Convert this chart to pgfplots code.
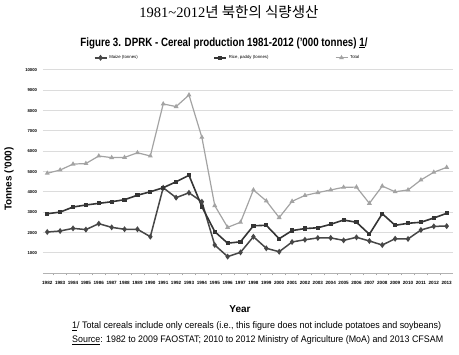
\documentclass[border=0pt]{standalone}
\usepackage{pgfplots}
\pgfplotsset{compat=1.18}
\usepackage{graphicx}
\usepackage{fontspec}
\setmainfont{Liberation Sans}
\newfontfamily\cjk{Noto Sans CJK KR}
\newfontfamily\serifnum{Liberation Serif}
\definecolor{maizec}{HTML}{474747}
\definecolor{ricec}{HTML}{353535}
\definecolor{totalc}{HTML}{A3A3A3}
\definecolor{gridc}{HTML}{DCDCDC}
\begin{document}
\begin{tikzpicture}
\path[use as bounding box] (0pt,0pt) rectangle (459pt,355pt);
\node at (229pt,343pt) {\fontsize{14.5}{15}\selectfont\serifnum 1981\char`~2012\cjk 년 북한의 식량생산};
\node at (224pt,312pt) {\resizebox{287pt}{\height}{\fontsize{12}{13}\selectfont\bfseries Figure 3. DPRK - Cereal production 1981-2012 ('000 tonnes) \underline{1}/}};
\begin{axis}[
  at={(43pt,81.7pt)}, anchor=south west, scale only axis,
  width=410pt, height=203.3pt,
  xmin=-0.33, xmax=31.49, ymin=0, ymax=10000,
  ytick={1000,2000,...,10000},
  scaled y ticks=false,
  xtick={0,...,31},
  xticklabels={1982,1983,1984,1985,1986,1987,1988,1989,1990,1991,1992,1993,1994,1995,1996,1997,1998,1999,2000,2001,2002,2003,2004,2005,2006,2007,2008,2009,2010,2011,2012,2013},
  minor xtick={-0.5,0.5,...,31.5},
  major tick length=0pt, minor tick length=2pt, tick align=outside,
  minor tick style={gray!70, line width=0.5pt},
  axis x line*=bottom, axis y line*=left,
  y axis line style={draw=none},
  x axis line style={draw=gray!60, line width=0.8pt},
  ymajorgrids, grid style={draw=gridc, line width=1pt},
  /pgf/number format/assume math mode=true,
  /pgf/number format/1000 sep={},
  yticklabel style={font=\fontsize{4.2}{5}\selectfont\bfseries, xshift=-2.5pt},
  xticklabel style={font=\fontsize{4.6}{5}\selectfont\bfseries, yshift=-4pt},
  legend columns=3,
  legend style={draw=none, fill=none, at={(0.45,1.06)}, anchor=center,
    font=\fontsize{4.3}{5}\selectfont, inner sep=0pt,
    /tikz/every even column/.append style={column sep=0pt}},
  legend image code/.code={\draw[#1] (0pt,0pt) -- (12pt,0pt); \draw[#1, only marks] plot coordinates {(6pt,0pt)};},
  clip=false,
]
\addplot[maizec, line width=1.5pt, mark=diamond*, mark size=1.8pt] coordinates {
(0,2030)(1,2080)(2,2210)(3,2150)(4,2440)(5,2260)(6,2165)(7,2165)(8,1800)(9,4210)
(10,3720)(11,3960)(12,3520)(13,1390)(14,820)(15,1030)(16,1800)(17,1230)(18,1060)(19,1540)
(20,1650)(21,1740)(22,1740)(23,1620)(24,1770)(25,1590)(26,1390)(27,1700)(28,1690)(29,2130)
(30,2310)(31,2320)};
\addlegendentry{\makebox[102pt][l]{Maize (tonnes)}}
\addplot[ricec, line width=1.6pt, mark=square*, mark size=1.3pt] coordinates {
(0,2930)(1,3010)(2,3260)(3,3360)(4,3440)(5,3520)(6,3620)(7,3840)(8,4010)(9,4210)
(10,4500)(11,4820)(12,3280)(13,2050)(14,1480)(15,1550)(16,2340)(17,2360)(18,1700)(19,2100)
(20,2200)(21,2240)(22,2410)(23,2620)(24,2510)(25,1920)(26,2930)(27,2360)(28,2460)(29,2510)
(30,2720)(31,2950)};
\addlegendentry{\makebox[104pt][l]{Rice, paddy (tonnes)}}
\addplot[totalc, line width=1.2pt, mark=triangle*, mark size=1.7pt] coordinates {
(0,4920)(1,5080)(2,5370)(3,5400)(4,5770)(5,5690)(6,5700)(7,5930)(8,5770)(9,8330)
(10,8200)(11,8770)(12,6690)(13,3330)(14,2260)(15,2510)(16,4100)(17,3560)(18,2740)(19,3540)
(20,3830)(21,3970)(22,4100)(23,4230)(24,4240)(25,3440)(26,4290)(27,4010)(28,4100)(29,4590)
(30,4970)(31,5210)};
\addlegendentry{Total}
\end{axis}
\node[rotate=90] at (9pt,176pt) {\fontsize{10}{11}\selectfont\bfseries Tonnes ('000)};
\node at (240pt,46pt) {\fontsize{10}{11}\selectfont\bfseries Year};
\node[anchor=west, inner sep=0pt] at (72pt,29pt) {\resizebox{369pt}{\height}{\fontsize{9.5}{10}\selectfont\underline{1}/ Total cereals include only cereals (i.e., this figure does not include potatoes and soybeans)}};
\node[anchor=west, inner sep=0pt] at (72pt,15pt) {\resizebox{371pt}{\height}{\fontsize{9.5}{10}\selectfont\underline{Source}: 1982 to 2009 FAOSTAT; 2010 to 2012 Ministry of Agriculture (MoA) and 2013 CFSAM}};
\end{tikzpicture}
\end{document}
